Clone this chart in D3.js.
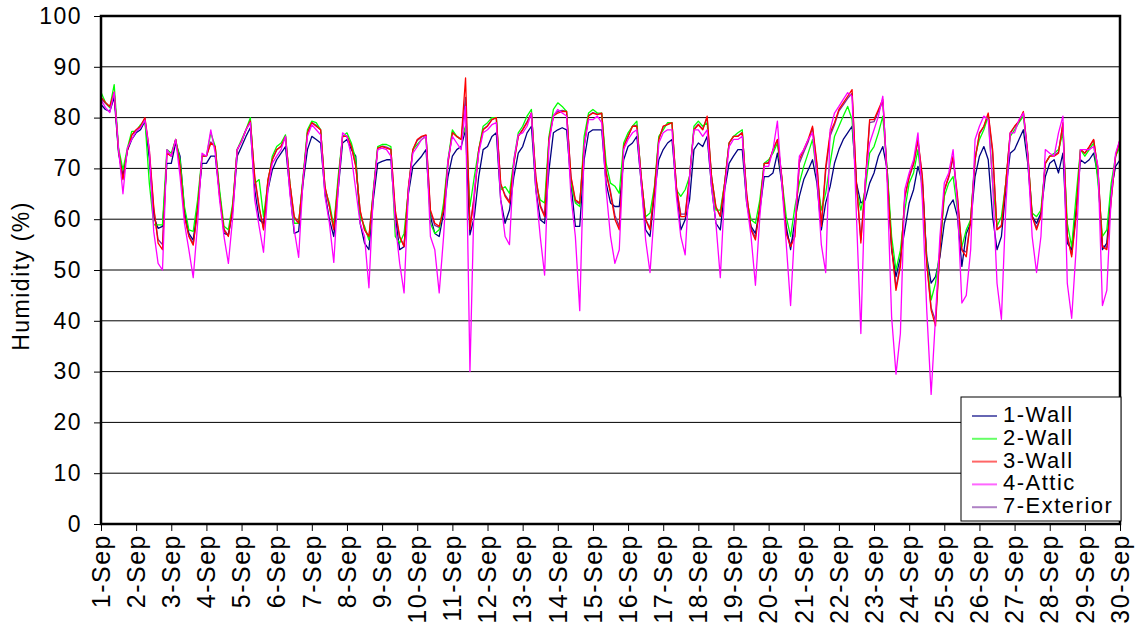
<!DOCTYPE html>
<html>
<head>
<meta charset="utf-8">
<script src="https://cdn.jsdelivr.net/npm/d3@7"></script>
<style>
body { margin: 0; background: #fff; }
text { font-family: "Liberation Sans", Arial, sans-serif; fill: #000; }
</style>
</head>
<body>
<div id="chart"></div>
<script>
// Tick labels
const dayLabels = ["1-Sep","2-Sep","3-Sep","4-Sep","5-Sep","6-Sep","7-Sep","8-Sep","9-Sep","10-Sep",
	"11-Sep","12-Sep","13-Sep","14-Sep","15-Sep","16-Sep","17-Sep","18-Sep","19-Sep","20-Sep",
	"21-Sep","22-Sep","23-Sep","24-Sep","25-Sep","26-Sep","27-Sep","28-Sep","29-Sep","30-Sep"];
const yTicks = [0, 10, 20, 30, 40, 50, 60, 70, 80, 90, 100];

// Series names and colours (legend order)
const seriesNames = ["1-Wall", "2-Wall", "3-Wall", "4-Attic", "7-Exterior"];
const seriesColors = ["#000080", "#00ff00", "#ff0000", "#ff00ff", "#7a2f9e"];

// Humidity readings every 3 hours (00,03,06,09,12,15,18,21h), one row per day,
// the last value is 30-Sep 00h
const wall1 = [
	82.6, 81.6, 81.2, 84.0, 73.0, 68.4, 73.5, 75.7,
	77.0, 77.6, 79.3, 72.0, 60.5, 58.2, 58.6, 71.0,
	71.0, 75.0, 72.4, 61.8, 57.2, 55.9, 62.5, 71.0,
	71.0, 72.4, 72.4, 65.1, 57.2, 56.9, 61.8, 72.4,
	74.3, 76.3, 78.0, 65.8, 59.9, 59.2, 65.8, 69.7,
	71.7, 73.0, 74.3, 65.8, 57.2, 57.6, 67.1, 73.7,
	76.3, 75.7, 75.0, 65.1, 59.9, 56.6, 65.8, 75.0,
	75.7, 73.7, 72.4, 59.2, 55.3, 54.0, 63.8, 71.0,
	71.4, 71.7, 71.7, 60.5, 54.0, 54.6, 65.1, 70.4,
	71.4, 72.4, 73.7, 60.5, 57.2, 56.6, 61.2, 68.4,
	72.4, 73.7, 74.3, 77.6, 56.9, 60.5, 68.4, 73.7,
	74.3, 76.3, 77.0, 63.8, 59.2, 61.8, 68.4, 73.0,
	74.3, 77.0, 78.3, 65.8, 59.9, 59.2, 69.7, 77.0,
	77.6, 78.0, 77.6, 67.1, 58.6, 58.6, 71.7, 77.0,
	77.6, 77.6, 77.6, 67.1, 63.2, 62.5, 62.5, 71.7,
	74.3, 75.0, 76.3, 67.1, 57.9, 56.6, 65.1, 71.7,
	73.7, 75.0, 75.7, 65.8, 57.9, 59.9, 63.8, 73.7,
	75.0, 74.3, 76.3, 66.4, 59.2, 57.9, 65.8, 71.0,
	72.4, 73.7, 73.7, 63.2, 58.6, 57.2, 61.8, 68.4,
	68.4, 69.1, 73.0, 67.0, 58.6, 54.0, 59.9, 64.5,
	67.8, 69.7, 71.7, 67.1, 57.9, 63.2, 66.4, 71.0,
	73.7, 75.7, 77.0, 78.3, 67.1, 63.2, 63.8, 67.1,
	69.1, 72.4, 74.3, 69.7, 54.0, 48.7, 52.6, 57.9,
	63.2, 65.8, 70.4, 67.1, 52.6, 47.4, 48.7, 52.6,
	59.2, 62.5, 63.8, 60.5, 50.7, 57.2, 59.2, 68.4,
	72.4, 74.3, 71.7, 60.5, 54.0, 56.6, 65.8, 73.0,
	73.7, 75.7, 77.6, 71.0, 60.5, 59.2, 61.2, 68.4,
	71.0, 71.7, 69.1, 73.0, 55.3, 54.0, 61.8, 71.7,
	71.0, 71.7, 73.0, 68.4, 54.0, 55.3, 65.8, 70.4,
	71.7
];
const wall2 = [
	85.0, 83.0, 82.0, 86.5, 74.0, 69.7, 74.0, 77.3,
	77.3, 78.6, 79.5, 67.1, 58.9, 58.9, 58.9, 73.7,
	73.0, 75.7, 71.7, 62.5, 57.9, 57.6, 63.8, 72.4,
	72.4, 77.0, 74.3, 65.8, 58.6, 57.9, 63.2, 73.7,
	75.7, 77.6, 80.0, 67.1, 67.8, 60.5, 67.1, 72.4,
	74.3, 75.0, 76.6, 67.1, 59.2, 59.2, 68.4, 77.6,
	79.3, 79.0, 77.6, 65.8, 63.2, 58.6, 68.4, 76.3,
	77.0, 75.0, 71.7, 60.5, 58.6, 55.9, 65.8, 74.3,
	74.7, 74.7, 74.3, 56.6, 55.3, 57.2, 65.8, 73.7,
	74.7, 75.7, 76.3, 59.2, 57.2, 57.9, 63.2, 71.7,
	77.6, 76.3, 75.7, 78.3, 62.5, 68.4, 73.7, 78.3,
	79.0, 80.0, 80.0, 65.8, 66.4, 65.1, 71.7, 77.0,
	78.3, 80.3, 81.6, 67.1, 63.8, 63.2, 76.3, 81.6,
	82.9, 82.2, 81.2, 67.1, 63.2, 62.5, 76.3, 80.9,
	81.6, 80.9, 80.9, 71.0, 67.1, 66.5, 65.1, 75.0,
	77.0, 78.3, 79.3, 67.8, 60.5, 61.2, 66.4, 76.3,
	77.6, 79.0, 79.0, 65.8, 64.5, 65.8, 68.4, 78.3,
	79.3, 78.3, 79.0, 68.4, 61.8, 61.8, 67.1, 75.0,
	76.3, 77.0, 77.6, 63.8, 59.9, 59.2, 63.8, 71.0,
	71.7, 73.0, 75.0, 68.0, 60.5, 56.6, 62.5, 67.1,
	70.4, 73.0, 75.7, 68.4, 61.8, 65.1, 71.0, 76.3,
	78.3, 80.3, 82.2, 79.6, 65.8, 61.8, 65.8, 73.0,
	74.3, 77.0, 80.3, 69.7, 56.6, 50.0, 53.9, 61.8,
	67.1, 69.1, 73.7, 65.8, 52.0, 44.1, 47.4, 53.9,
	64.5, 67.1, 68.4, 61.8, 54.6, 57.9, 59.9, 72.4,
	75.7, 77.6, 80.3, 67.1, 58.6, 60.5, 67.1, 76.3,
	77.6, 79.0, 80.3, 72.4, 61.2, 60.5, 61.8, 71.0,
	72.4, 73.0, 73.7, 77.0, 59.2, 54.6, 64.5, 73.7,
	72.4, 73.7, 75.0, 67.1, 56.6, 57.9, 67.1, 72.4,
	74.3
];
const wall3 = [
	84.0, 83.0, 82.2, 85.0, 73.5, 67.8, 73.5, 76.6,
	77.6, 78.3, 80.0, 73.7, 62.5, 55.3, 54.0, 73.0,
	72.4, 75.7, 70.4, 60.5, 56.6, 54.9, 61.8, 72.4,
	72.4, 75.0, 74.3, 64.5, 57.9, 56.6, 62.5, 73.7,
	75.3, 77.6, 79.3, 68.4, 62.5, 57.9, 67.8, 71.7,
	73.7, 74.3, 76.3, 67.1, 60.5, 59.2, 67.8, 77.0,
	79.0, 78.3, 77.6, 66.4, 62.5, 57.9, 67.1, 76.3,
	76.3, 74.3, 70.4, 61.8, 57.9, 56.6, 65.1, 74.0,
	74.3, 74.0, 73.7, 61.8, 56.6, 54.6, 66.4, 73.7,
	75.7, 76.3, 76.6, 61.8, 59.2, 58.6, 61.8, 71.0,
	77.0, 76.3, 75.7, 87.8, 58.0, 64.5, 73.7, 77.6,
	78.3, 79.6, 80.0, 67.1, 64.5, 63.2, 71.0, 76.3,
	77.6, 79.0, 80.9, 68.4, 62.5, 60.5, 75.7, 80.3,
	80.9, 81.2, 81.2, 68.4, 63.8, 63.2, 74.3, 80.3,
	80.9, 80.6, 80.9, 69.1, 65.1, 60.0, 57.9, 74.3,
	76.3, 78.3, 78.3, 68.4, 59.9, 57.9, 65.8, 75.7,
	78.3, 78.6, 79.0, 66.4, 60.5, 60.5, 68.4, 77.6,
	78.6, 77.6, 80.3, 68.4, 62.5, 60.5, 67.1, 75.0,
	76.3, 76.3, 77.0, 65.1, 57.9, 55.9, 62.5, 71.0,
	71.0, 73.7, 75.7, 68.4, 57.2, 54.6, 56.6, 71.7,
	73.7, 75.7, 78.3, 71.0, 58.6, 70.4, 77.0, 79.0,
	81.6, 82.9, 84.2, 85.5, 67.1, 55.3, 67.1, 79.6,
	79.6, 81.6, 83.6, 68.4, 54.6, 46.0, 50.7, 64.5,
	68.4, 71.0, 75.7, 68.4, 51.3, 42.1, 39.0, 53.9,
	65.8, 68.4, 72.4, 64.5, 53.9, 52.6, 59.9, 71.7,
	77.0, 78.3, 80.9, 73.7, 57.9, 58.6, 67.1, 77.0,
	78.3, 79.3, 81.2, 73.0, 60.5, 57.9, 60.5, 71.0,
	72.4, 72.4, 73.0, 79.0, 56.6, 52.6, 60.5, 73.7,
	73.0, 74.3, 75.7, 69.7, 54.6, 54.0, 63.8, 72.4,
	75.7
];
const attic = [
	83.5, 82.0, 81.0, 85.0, 73.7, 65.0, 74.0, 75.7,
	77.3, 78.0, 79.5, 73.7, 57.6, 51.3, 50.0, 73.7,
	72.4, 75.7, 68.4, 59.2, 54.0, 48.5, 59.2, 73.0,
	72.4, 77.6, 73.0, 63.8, 56.6, 51.3, 60.5, 73.7,
	75.3, 77.6, 79.0, 63.8, 58.6, 53.5, 65.8, 71.0,
	72.4, 73.7, 76.3, 65.0, 57.9, 52.5, 67.8, 76.3,
	78.6, 77.6, 76.6, 64.5, 59.2, 51.5, 65.8, 77.0,
	76.3, 72.4, 65.8, 59.2, 56.6, 46.5, 65.1, 73.7,
	74.0, 73.7, 72.4, 59.2, 51.3, 45.5, 65.8, 73.0,
	74.3, 75.7, 76.3, 56.6, 54.0, 45.5, 56.6, 71.7,
	76.3, 75.0, 73.7, 82.2, 30.0, 65.8, 73.0, 77.0,
	77.6, 78.6, 79.0, 63.8, 56.6, 55.0, 71.7, 76.6,
	77.0, 78.3, 80.9, 65.8, 56.6, 49.0, 75.0, 80.3,
	81.6, 80.9, 80.3, 64.5, 56.6, 42.0, 74.3, 79.6,
	79.6, 80.3, 79.0, 65.8, 56.6, 51.3, 54.0, 73.7,
	75.7, 77.0, 77.6, 67.1, 55.9, 49.5, 61.8, 75.0,
	77.0, 77.6, 77.6, 64.5, 56.6, 53.0, 68.4, 77.6,
	77.6, 76.3, 77.6, 66.4, 59.2, 48.5, 65.8, 74.3,
	75.7, 75.7, 76.3, 63.2, 56.6, 47.0, 60.5, 70.4,
	70.4, 73.7, 79.3, 67.0, 55.3, 43.0, 59.2, 72.4,
	73.7, 75.7, 77.0, 68.4, 55.0, 49.5, 77.6, 80.9,
	82.2, 83.6, 84.9, 84.2, 60.5, 37.5, 67.8, 75.0,
	77.6, 80.3, 84.2, 67.1, 40.8, 29.5, 37.5, 65.8,
	69.1, 71.7, 77.0, 63.8, 42.1, 25.5, 40.8, 56.6,
	67.1, 69.1, 73.7, 62.5, 43.5, 45.0, 54.0, 75.7,
	78.3, 80.3, 79.6, 67.1, 47.4, 40.3, 62.5, 77.0,
	77.0, 79.6, 80.9, 72.4, 56.6, 49.5, 56.6, 73.7,
	73.0, 72.4, 77.0, 80.3, 47.4, 40.5, 54.0, 73.7,
	73.7, 73.7, 74.3, 70.4, 43.0, 46.0, 64.5, 73.0,
	75.7
];
const exterior = [
	83.8, 82.8, 82.0, 85.0, 73.6, 68.0, 73.6, 76.5,
	77.5, 78.4, 79.8, 73.0, 62.0, 56.0, 55.0, 73.0,
	72.5, 75.6, 70.8, 61.0, 56.8, 55.2, 62.0, 72.4,
	72.4, 75.2, 74.2, 64.8, 58.0, 56.8, 62.6, 73.6,
	75.4, 77.5, 79.4, 68.0, 62.2, 58.2, 67.6, 71.8,
	73.6, 74.4, 76.3, 67.0, 60.2, 59.2, 67.9, 77.0,
	79.0, 78.5, 77.6, 66.2, 62.6, 58.0, 67.3, 76.3,
	76.4, 74.4, 70.6, 61.5, 58.0, 56.4, 65.3, 74.0,
	74.4, 74.2, 73.8, 61.0, 56.4, 54.8, 66.2, 73.6,
	75.5, 76.2, 76.5, 61.2, 58.8, 58.4, 62.0, 71.2,
	77.2, 76.3, 75.7, 84.0, 58.5, 64.8, 73.6, 77.7,
	78.4, 79.6, 80.0, 66.8, 64.8, 63.5, 71.2, 76.4,
	77.7, 79.2, 80.9, 68.0, 62.8, 60.8, 75.8, 80.4,
	81.2, 81.4, 81.2, 68.2, 63.5, 63.0, 74.6, 80.4,
	81.0, 80.7, 80.8, 69.4, 65.5, 60.8, 58.5, 74.4,
	76.4, 78.3, 78.5, 68.2, 60.0, 58.2, 65.9, 75.8,
	78.2, 78.7, 79.0, 66.2, 61.0, 61.0, 68.4, 77.7,
	78.7, 77.7, 80.0, 68.4, 62.3, 60.8, 67.2, 75.0,
	76.3, 76.4, 77.1, 64.8, 58.2, 56.4, 62.7, 71.0,
	71.2, 73.6, 75.6, 68.2, 57.6, 55.0, 57.5, 71.0,
	73.2, 75.2, 78.0, 70.5, 58.8, 69.5, 76.4, 78.6,
	81.3, 82.5, 83.8, 84.8, 67.0, 56.0, 66.8, 79.0,
	79.2, 81.2, 83.2, 68.6, 55.0, 46.6, 51.2, 64.2,
	68.2, 70.8, 75.4, 68.2, 51.5, 42.6, 40.0, 54.0,
	65.6, 68.2, 72.0, 64.0, 54.0, 53.5, 59.9, 71.6,
	76.8, 78.2, 80.6, 73.0, 58.0, 58.8, 67.1, 76.9,
	78.2, 79.2, 81.0, 72.8, 60.7, 58.3, 60.8, 71.0,
	72.4, 72.6, 73.2, 78.6, 56.8, 53.0, 61.0, 73.7,
	73.0, 74.2, 75.6, 69.4, 54.8, 54.4, 64.0, 72.4,
	75.5
];

// Set Dimensions
const width = 1138;
const height = 633;
const plotLeft = 101;
const plotRight = 1120;
const plotTop = 16;
const plotBottom = 524;

const svg = d3.select("#chart")
	.append("svg")
	.attr("width", width)
	.attr("height", height);

// Scales
const xScale = d3.scaleLinear()
	.domain([0, dayLabels.length - 1])
	.range([plotLeft, plotRight]);

const yScale = d3.scaleLinear()
	.domain([0, 100])
	.range([plotBottom, plotTop]);

// time of each reading in days since 1-Sep 00h (8 readings per day)
const readingTimes = wall1.map((v, i) => i / 8);

// Horizontal gridlines
svg.append("g")
	.selectAll("line")
	.data(yTicks)
	.join("line")
	.attr("x1", plotLeft)
	.attr("x2", plotRight)
	.attr("y1", d => yScale(d))
	.attr("y2", d => yScale(d))
	.attr("stroke", "#000")
	.attr("stroke-width", 1);

// Y Axis
const yAxisG = svg.append("g")
	.attr("transform", "translate(" + plotLeft + ",0)")
	.call(d3.axisLeft(yScale).tickValues(yTicks).tickSize(7).tickPadding(12));
yAxisG.select(".domain").remove();
yAxisG.selectAll("text")
	.attr("font-family", "Liberation Sans, Arial, sans-serif")
	.attr("font-size", 23)
	.style("letter-spacing", "1.5px");

// X Axis, one tick per day
const xAxisG = svg.append("g")
	.attr("transform", "translate(0," + plotBottom + ")")
	.call(d3.axisBottom(xScale)
		.tickValues(d3.range(dayLabels.length))
		.tickFormat(i => dayLabels[i])
		.tickSize(7));
xAxisG.select(".domain").remove();
xAxisG.selectAll("text")
	.attr("font-family", "Liberation Sans, Arial, sans-serif")
	.attr("font-size", 25)
	.style("letter-spacing", "1.5px")
	.attr("transform", "rotate(-90)")
	.attr("text-anchor", "end")
	.attr("x", -10)
	.attr("y", 0)
	.attr("dy", "0.33em");

// Y axis title
svg.append("text")
	.attr("transform", "translate(29,276) rotate(-90)")
	.attr("text-anchor", "middle")
	.attr("font-size", 23)
	.style("letter-spacing", "1.5px")
	.text("Humidity (%)");

// Clip lines to plot area
svg.append("clipPath")
	.attr("id", "plot-clip")
	.append("rect")
	.attr("x", plotLeft)
	.attr("y", plotTop)
	.attr("width", plotRight - plotLeft)
	.attr("height", plotBottom - plotTop);

const lineGen = d3.line()
	.x((d, i) => xScale(readingTimes[i]))
	.y(d => yScale(d));

// draw order: exterior underneath, then walls, attic on top
const drawOrder = [
	{ values: exterior, color: seriesColors[4] },
	{ values: wall1, color: seriesColors[0] },
	{ values: wall2, color: seriesColors[1] },
	{ values: wall3, color: seriesColors[2] },
	{ values: attic, color: seriesColors[3] }
];

svg.append("g")
	.attr("clip-path", "url(#plot-clip)")
	.selectAll("path")
	.data(drawOrder)
	.join("path")
	.attr("d", d => lineGen(d.values))
	.attr("fill", "none")
	.attr("stroke", d => d.color)
	.attr("stroke-width", 1.3)
	.attr("stroke-linejoin", "round");

// Plot frame
svg.append("rect")
	.attr("x", plotLeft)
	.attr("y", plotTop)
	.attr("width", plotRight - plotLeft)
	.attr("height", plotBottom - plotTop)
	.attr("fill", "none")
	.attr("stroke", "#000")
	.attr("stroke-width", 2.5);

// Legend
const legend = svg.append("g");
legend.append("rect")
	.attr("x", 961)
	.attr("y", 397)
	.attr("width", 160)
	.attr("height", 124)
	.attr("fill", "#fff")
	.attr("stroke", "#000")
	.attr("stroke-width", 1);

const legendRows = legend.selectAll("g.row")
	.data(seriesNames)
	.join("g")
	.attr("class", "row")
	.attr("transform", (d, i) => "translate(0," + (414 + i * 22.8) + ")");

legendRows.append("line")
	.attr("x1", 972)
	.attr("x2", 997)
	.attr("y1", 2)
	.attr("y2", 2)
	.attr("stroke", (d, i) => seriesColors[i])
	.attr("stroke-width", 2)
	.attr("stroke-opacity", 0.6);

legendRows.append("text")
	.attr("x", 1003)
	.attr("dy", "0.36em")
	.attr("font-size", 22)
	.style("letter-spacing", "1.5px")
	.text(d => d);
</script>
</body>
</html>
